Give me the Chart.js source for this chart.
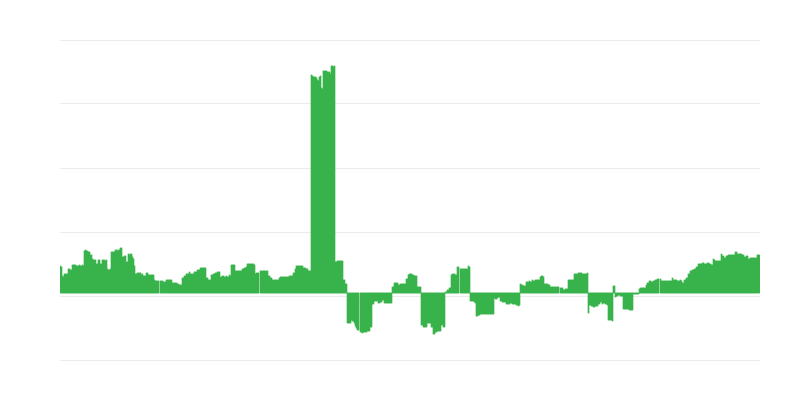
<!DOCTYPE html>
<html>
<head>
<meta charset="utf-8">
<script src="https://cdn.jsdelivr.net/npm/chart.js@4"></script>
<style>
  html, body { margin: 0; padding: 0; background: #fff; }
  #wrap { width: 800px; height: 400px; }
</style>
</head>
<body>
<div id="wrap"><canvas id="myChart"></canvas></div>
<script>
// one value per slot, 100 slots per day, last slot of each day is empty
const day1 = [
  27,26,17,16,19,19,19,19,24,24, 23,23,28,28,28,28,27,27,27,28,
  27,27,28,27,42,43,42,42,41,41, 38,38,34,33,33,33,29,29,33,33,
  29,29,33,33,33,32,33,24,23,23, 24,41,41,41,41,43,43,42,43,43,
  45,45,36,36,37,37,31,31,39,38, 39,39,36,34,27,19,19,20,20,20,
  20,18,19,17,17,17,20,20,18,18, 18,18,18,18,13,12,12,12,12,null
];
const day2 = [
  12,12,12,11,11,11,13,13,13,13, 13,13,10,10,10,10,10,9,9,8,
  8,8,15,15,17,17,19,19,19,21, 19,19,19,19,21,21,21,23,23,23,
  25,25,25,25,25,25,15,15,13,13, 13,18,18,19,19,20,20,21,21,21,
  16,16,17,17,16,16,17,16,16,18, 17,28,28,28,28,22,22,22,22,22,
  22,22,24,24,25,25,26,29,29,29, 29,29,29,29,28,19,20,20,20,null
];
const day3 = [
  22,22,22,22,22,22,22,22,17,17, 15,15,13,13,13,13,13,13,13,15,
  16,16,16,16,16,16,16,16,16,17, 17,17,17,20,20,24,27,27,27,27,
  27,27,27,25,25,25,24,24,22,22, 22,218,217,216,216,216,215,213,212,216,
  217,205,204,222,222,222,222,221,221,221, 219,227,227,226,227,31,31,32,32,32,
  32,32,32,13,13,9,9,-30,-30,-30, -30,-27,-28,-28,-30,-33,-35,-37,-37,null
];
const day4 = [
  -39,-39,-40,-39,-39,-39,-39,-38,-38,-38, -34,-34,-11,-11,-8,-8,-8,-8,-10,-10,
  -9,-9,-7,-7,-10,-10,-10,-10,-10,-10, -10,-10,6,6,10,10,10,10,8,8,
  9,9,9,9,9,9,14,14,18,19, 19,19,18,18,17,17,17,6,6,6,
  6,-32,-32,-34,-34,-34,-34,-30,-30,-30, -30,-34,-34,-41,-41,-39,-39,-38,-38,-38,
  -38,-32,-32,-34,-34,1,1,3,3,5, 5,18,19,19,19,18,18,26,26,null
];
const day5 = [
  24,24,24,24,24,24,24,24,27,26, -8,-8,-8,-8,-9,-10,-23,-23,-22,-22,
  -21,-21,-21,-21,-21,-21,-21,-21,-21,-21, -21,-21,-21,-21,-5,-6,-6,-5,-4,-4,
  -8,-8,-9,-9,-9,-9,-11,-11,-11,-11, -10,-10,-11,-11,-11,-11,-12,-12,-13,-12,
  9,8,8,7,7,7,11,11,11,12, 11,11,13,12,12,13,13,13,13,13,
  16,17,17,16,9,9,9,9,8,8, 6,6,6,6,6,6,6,6,6,null
];
const day6 = [
  5,5,5,3,3,4,4,4,13,13, 13,13,13,13,19,19,19,19,20,20,
  20,20,19,19,19,19,19,20,-20,-12, -12,-13,-13,-14,-14,-13,-13,-13,-11,-11,
  -9,-9,-11,-10,-10,-11,-11,-12,-27,-27, -27,-27,-28,7,7,-4,-3,-3,-2,-2,
  -3,-3,-3,-16,-16,-16,-16,-16,-16,-17, -17,-17,-17,-1,-1,-1,-1,-1,-1,4,
  5,5,5,5,5,5,8,10,10,12, 12,11,11,12,12,13,13,14,14,null
];
const day7 = [
  14,12,12,12,12,12,12,12,12,12, 12,12,15,13,13,13,13,12,12,12,
  13,12,10,10,13,13,15,15,19,19, 22,22,23,23,24,24,26,26,29,29,
  29,29,30,30,29,29,29,30,30,29, 29,28,28,34,33,32,32,32,32,32,
  32,39,37,37,35,35,37,37,38,38, 38,38,38,38,38,41,41,39,39,39,
  39,39,38,38,36,36,37,37,34,34, 35,35,35,35,35,35,35,38,38,38
];
const dayNames = ['D1', 'D2', 'D3', 'D4', 'D5', 'D6', 'D7'];
// hidden axis, grid lines only
const yMin = -67;
const yMax = 253;
const yTicks = [-67, -3, 61, 125, 189, 253];

const days = [day1, day2, day3, day4, day5, day6, day7];
const labels = [];
const values = [];
days.forEach((d, n) => {
  d.forEach((v, i) => {
    labels.push(dayNames[n] + ' ' + i);
    values.push(v);
  });
});

const data = {
  labels: labels,
  datasets: [{
    data: values,
    backgroundColor: '#39b24b',
    borderWidth: 0,
    barPercentage: 1,
    categoryPercentage: 1
  }]
};

const config = {
  type: 'bar',
  data: data,
  options: {
    responsive: true,
    maintainAspectRatio: false,
    animation: false,
    layout: { padding: { left: 60, right: 40, top: 40, bottom: 40 } },
    plugins: {
      legend: { display: false },
      tooltip: { enabled: false }
    },
    scales: {
      x: { display: false },
      y: {
        min: yMin,
        max: yMax,
        afterBuildTicks: (axis) => {
          axis.ticks = yTicks.map(v => ({ value: v }));
        },
        ticks: { display: false },
        border: { display: false },
        grid: { color: '#ebebeb', drawTicks: false, lineWidth: 1 }
      }
    }
  }
};

const myChart = new Chart(document.getElementById('myChart'), config);
</script>
</body>
</html>
